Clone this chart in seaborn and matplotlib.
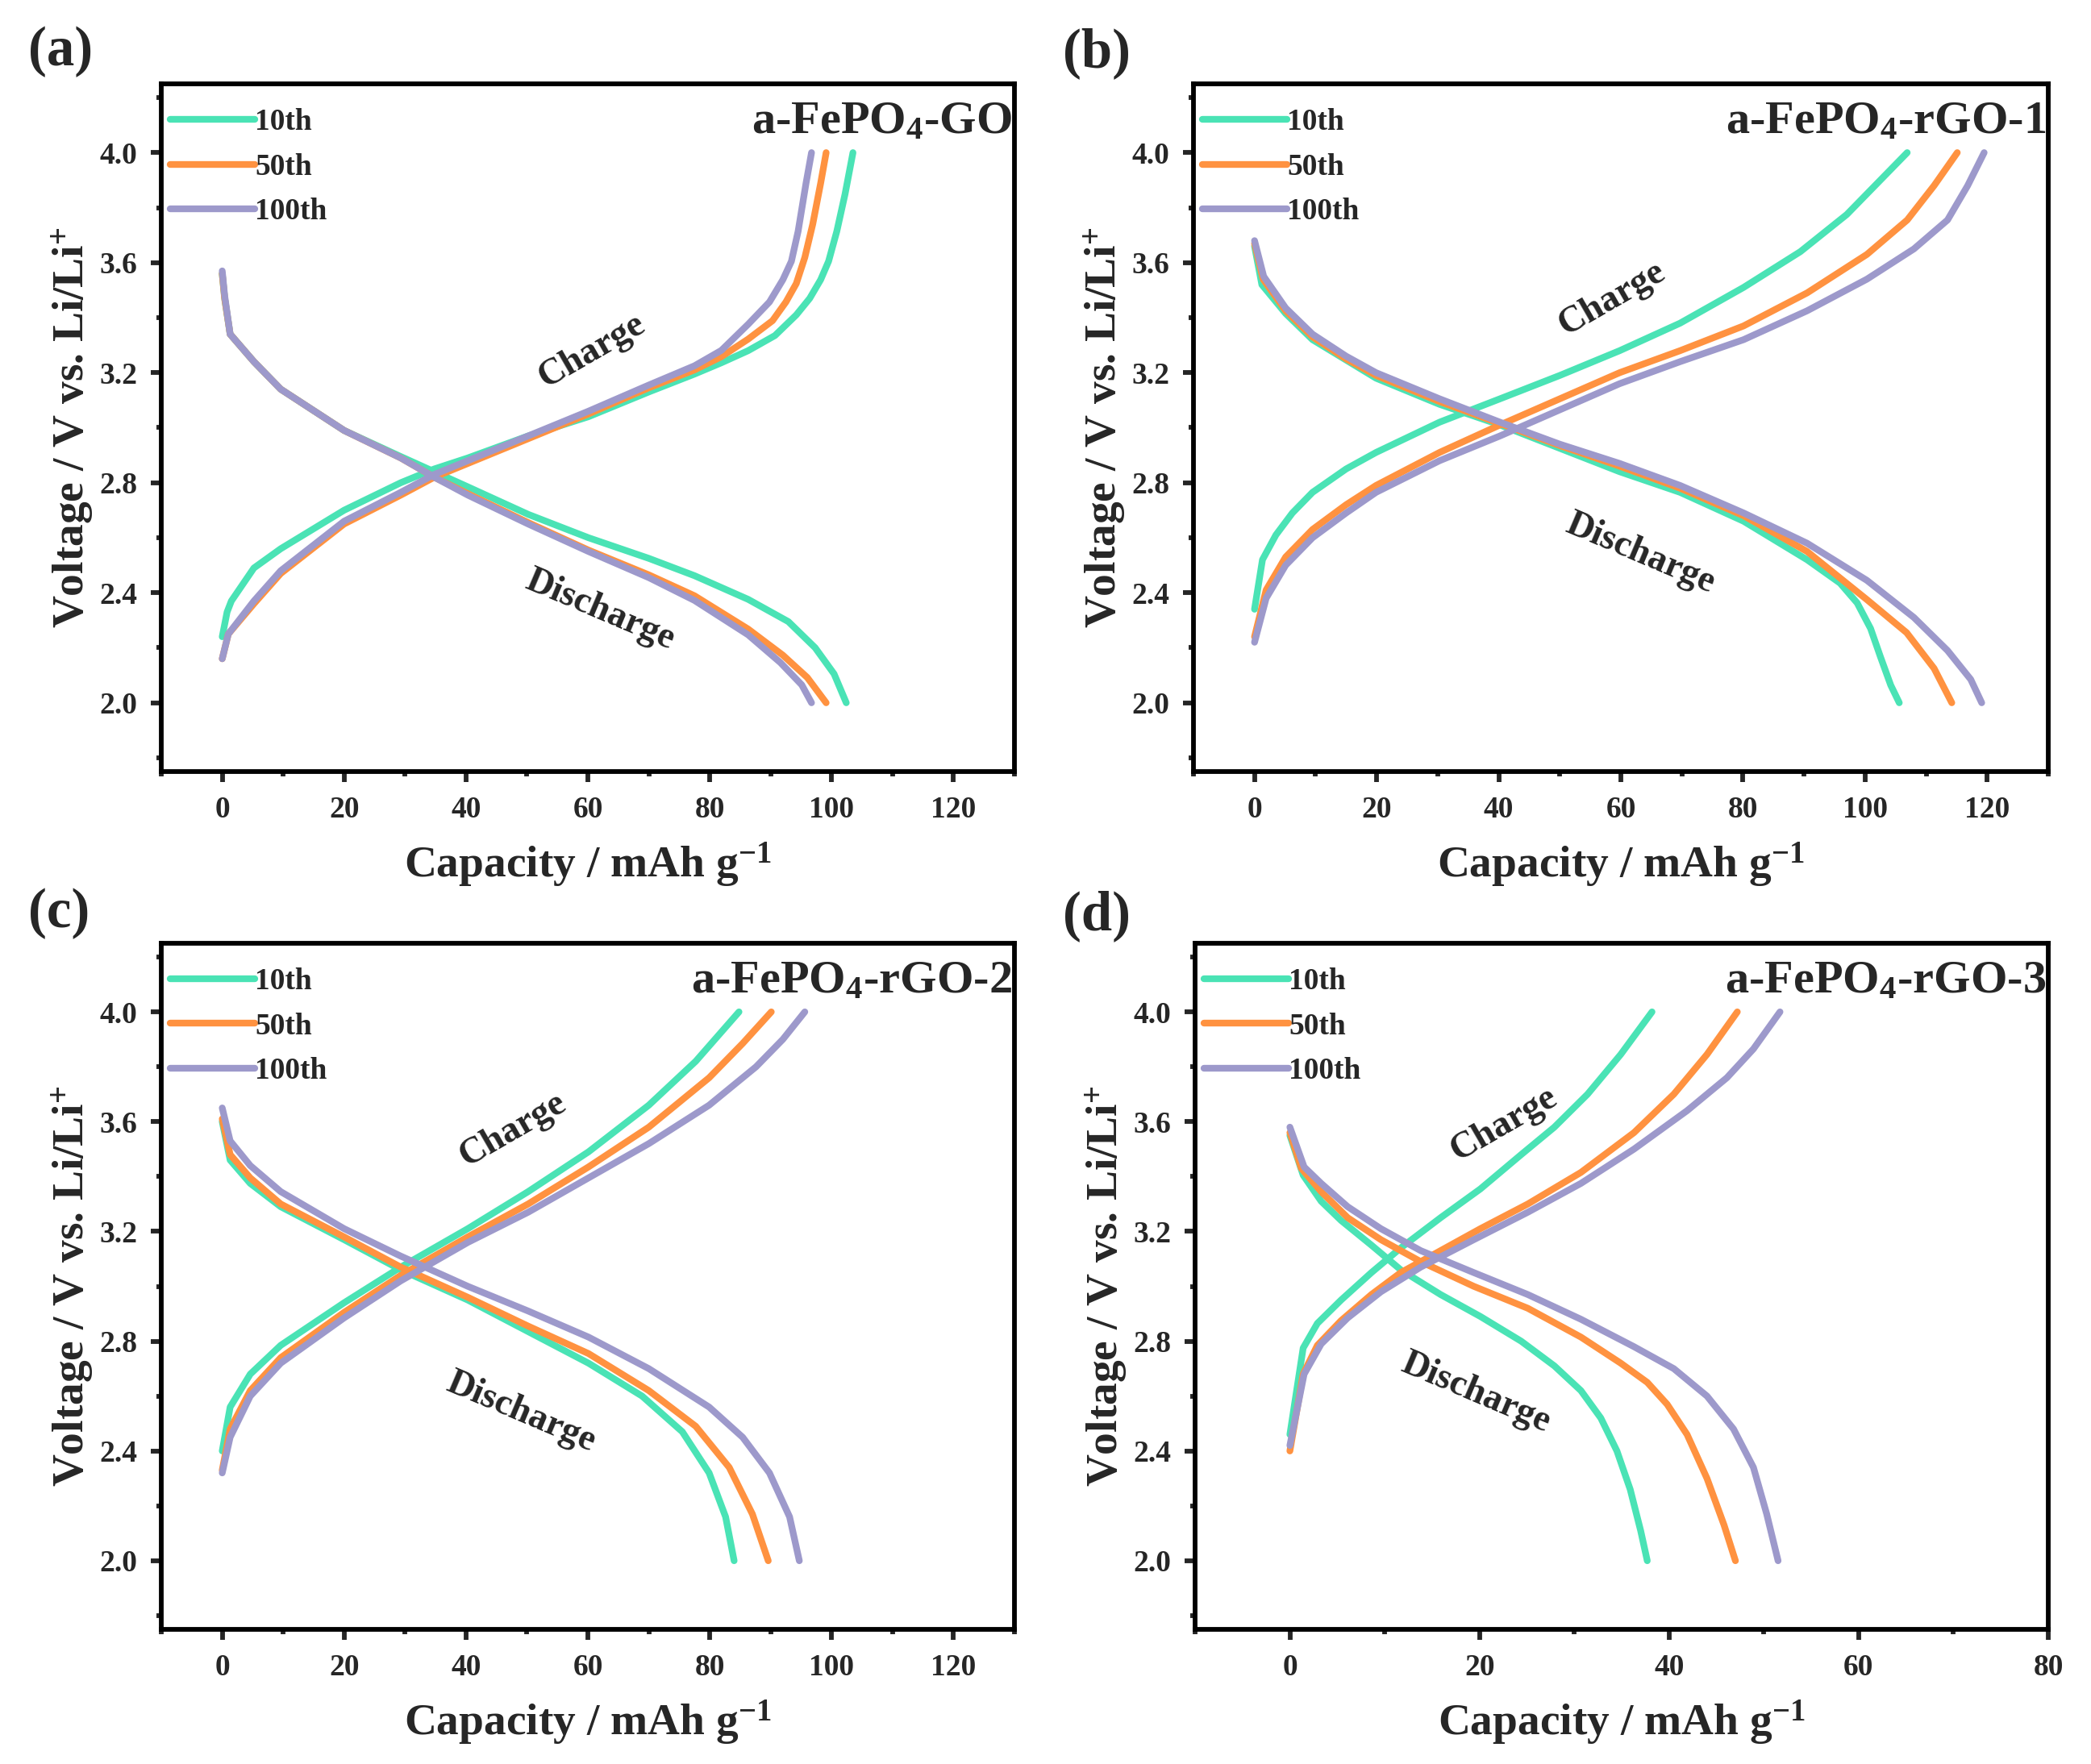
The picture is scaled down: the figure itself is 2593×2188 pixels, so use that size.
import numpy as np
import pandas as pd
import matplotlib
matplotlib.use("Agg")
import matplotlib.pyplot as plt
from matplotlib.ticker import MultipleLocator
from matplotlib.lines import Line2D
import seaborn as sns

# ---- data (capacity mAh/g, voltage V) ----
cycles = ["10th", "50th", "100th"]
colors = {"10th": "#4ae3b5", "50th": "#ff9240", "100th": "#9d99cb"}

# (a) a-FePO4-GO
a10_dis_q = [0, 0.4, 1.3, 5.2, 9.6, 20, 29.3, 34.8, 40.3, 50.2, 60.1, 70, 77.5, 86.3, 92.9, 97.3, 100.4, 102.4]
a10_dis_v = [3.56, 3.47, 3.34, 3.24, 3.14, 2.99, 2.895, 2.84, 2.785, 2.685, 2.60, 2.525, 2.462, 2.376, 2.295, 2.20, 2.105, 2.0]
a50_dis_q = [0, 0.4, 1.3, 5.2, 9.6, 20, 29.3, 34.8, 40.3, 50.2, 60.1, 70, 77.5, 86.3, 92.0, 96.0, 99.1]
a50_dis_v = [3.56, 3.47, 3.34, 3.24, 3.14, 2.99, 2.89, 2.82, 2.76, 2.655, 2.555, 2.465, 2.389, 2.268, 2.173, 2.092, 2.0]
a100_dis_q = [0, 0.4, 1.3, 5.2, 9.6, 20, 29.3, 34.8, 40.3, 50.2, 60.1, 70, 77.5, 86.3, 91.6, 95.1, 96.7]
a100_dis_v = [3.57, 3.48, 3.34, 3.24, 3.14, 2.99, 2.89, 2.82, 2.755, 2.65, 2.55, 2.455, 2.372, 2.247, 2.146, 2.065, 2.0]
a10_chg_q = [0, 0.8, 1.5, 5.2, 9.6, 20, 29.3, 34.8, 40.3, 50.2, 60.1, 70, 77.5, 81.9, 86.3, 90.7, 94.2, 96.4, 98.2, 99.5, 100.85, 102.2, 103.5]
a10_chg_v = [2.24, 2.33, 2.37, 2.49, 2.56, 2.70, 2.80, 2.85, 2.89, 2.97, 3.04, 3.13, 3.195, 3.236, 3.28, 3.335, 3.41, 3.47, 3.538, 3.605, 3.714, 3.849, 4.0]
a50_chg_q = [0, 1, 5.2, 9.6, 20, 29.3, 34.8, 40.3, 50.2, 60.1, 70, 77.5, 81.9, 86.3, 90.3, 92.5, 94.2, 95.6, 96.9, 98.2, 99.1]
a50_chg_v = [2.16, 2.25, 2.36, 2.47, 2.65, 2.755, 2.82, 2.87, 2.96, 3.05, 3.145, 3.21, 3.258, 3.322, 3.389, 3.457, 3.524, 3.619, 3.74, 3.889, 4.0]
a100_chg_q = [0, 1, 5.2, 9.6, 20, 29.3, 34.8, 40.3, 50.2, 60.1, 70, 77.5, 81.9, 86.3, 89.8, 92.0, 93.4, 94.5, 95.8, 96.7]
a100_chg_v = [2.16, 2.25, 2.37, 2.48, 2.66, 2.765, 2.83, 2.88, 2.97, 3.06, 3.155, 3.225, 3.281, 3.376, 3.457, 3.538, 3.605, 3.714, 3.889, 4.0]

# (b) a-FePO4-rGO-1
b10_dis_q = [0, 1.2, 5.1, 9.5, 19.9, 30.3, 40.2, 50, 59.8, 69.7, 80.1, 90.5, 95.9, 98.7, 100.9, 102.5, 104.2, 105.6]
b10_dis_v = [3.66, 3.52, 3.415, 3.32, 3.18, 3.085, 3.01, 2.925, 2.84, 2.765, 2.66, 2.52, 2.435, 2.363, 2.27, 2.168, 2.064, 2.0]
b50_dis_q = [0, 1.4, 5.1, 9.5, 15, 19.9, 30.3, 40.2, 50, 59.8, 69.7, 80.1, 90.5, 100.3, 106.8, 111.3, 114.2]
b50_dis_v = [3.67, 3.54, 3.425, 3.33, 3.25, 3.19, 3.095, 3.015, 2.935, 2.86, 2.78, 2.68, 2.55, 2.375, 2.255, 2.125, 2.0]
b100_dis_q = [0, 1.5, 5.1, 9.5, 15, 19.9, 30.3, 40.2, 50, 59.8, 69.7, 80.1, 90.5, 100.3, 108, 113.5, 117.3, 119.1]
b100_dis_v = [3.68, 3.55, 3.435, 3.34, 3.26, 3.20, 3.105, 3.02, 2.94, 2.87, 2.79, 2.69, 2.58, 2.445, 2.31, 2.19, 2.085, 2.0]
b10_chg_q = [0, 1.3, 3.5, 6.2, 9.5, 15, 19.9, 30.3, 40.2, 50, 59.8, 69.7, 80.1, 89.4, 97, 102.5, 106.9]
b10_chg_v = [2.34, 2.52, 2.61, 2.69, 2.765, 2.85, 2.91, 3.02, 3.105, 3.19, 3.28, 3.38, 3.51, 3.64, 3.775, 3.90, 4.0]
b50_chg_q = [0, 1.9, 5.1, 9.5, 15, 19.9, 30.3, 40.2, 50, 59.8, 69.7, 80.1, 90.5, 100.3, 106.9, 111.3, 115.1]
b50_chg_v = [2.24, 2.41, 2.53, 2.63, 2.72, 2.79, 2.91, 3.01, 3.105, 3.20, 3.28, 3.37, 3.49, 3.63, 3.755, 3.88, 4.0]
b100_chg_q = [0, 1.9, 5.1, 9.5, 15, 19.9, 30.3, 40.2, 50, 59.8, 69.7, 80.1, 90.5, 100.3, 108, 113.5, 116.8, 119.5]
b100_chg_v = [2.22, 2.38, 2.50, 2.60, 2.69, 2.765, 2.88, 2.97, 3.065, 3.16, 3.24, 3.32, 3.425, 3.54, 3.65, 3.755, 3.88, 4.0]

# (c) a-FePO4-rGO-2
c10_dis_q = [0, 1.3, 4.6, 9.6, 20, 29.3, 40.3, 50.2, 60.1, 68.9, 75.5, 79.9, 82.6, 84]
c10_dis_v = [3.60, 3.46, 3.375, 3.29, 3.17, 3.06, 2.95, 2.835, 2.72, 2.60, 2.47, 2.32, 2.16, 2.0]
c50_dis_q = [0, 1.3, 4.6, 9.6, 20, 29.3, 40.3, 50.2, 60.1, 70, 77.7, 83.2, 87, 89.6]
c50_dis_v = [3.61, 3.48, 3.395, 3.30, 3.18, 3.07, 2.96, 2.855, 2.755, 2.62, 2.49, 2.34, 2.17, 2.0]
c100_dis_q = [0, 1.3, 4.6, 9.6, 20, 29.3, 40.3, 50.2, 60.1, 70, 79.9, 85.4, 89.8, 93.1, 94.7]
c100_dis_v = [3.65, 3.53, 3.44, 3.345, 3.21, 3.11, 3.0, 2.91, 2.815, 2.70, 2.56, 2.45, 2.32, 2.16, 2.0]
c10_chg_q = [0, 1.3, 4.6, 9.6, 20, 29.3, 40.3, 50.2, 60.1, 70, 77.7, 84.8]
c10_chg_v = [2.40, 2.56, 2.68, 2.785, 2.94, 3.07, 3.21, 3.345, 3.49, 3.66, 3.82, 4.0]
c50_chg_q = [0, 1.3, 4.6, 9.6, 20, 29.3, 40.3, 50.2, 60.1, 70, 79.9, 85.4, 90.1]
c50_chg_v = [2.33, 2.48, 2.62, 2.74, 2.905, 3.04, 3.18, 3.30, 3.435, 3.58, 3.76, 3.885, 4.0]
c100_chg_q = [0, 1.3, 4.6, 9.6, 20, 29.3, 40.3, 50.2, 60.1, 70, 79.9, 87.6, 92, 95.6]
c100_chg_v = [2.32, 2.45, 2.60, 2.72, 2.885, 3.02, 3.16, 3.27, 3.395, 3.52, 3.66, 3.80, 3.90, 4.0]

# (d) a-FePO4-rGO-3
d10_dis_q = [0, 1.4, 3.3, 5.4, 8.6, 11.7, 15.9, 20.1, 24.4, 27.9, 30.7, 32.8, 34.5, 35.9, 37, 37.7]
d10_dis_v = [3.55, 3.405, 3.31, 3.24, 3.15, 3.06, 2.97, 2.89, 2.80, 2.71, 2.62, 2.52, 2.40, 2.26, 2.11, 2.0]
d50_dis_q = [0, 1.2, 3.3, 6.1, 9.6, 13.8, 19.4, 25.1, 30.7, 34.9, 37.7, 39.8, 41.9, 44, 45.8, 47]
d50_dis_v = [3.56, 3.43, 3.345, 3.25, 3.17, 3.09, 3.0, 2.92, 2.815, 2.72, 2.65, 2.57, 2.46, 2.30, 2.13, 2.0]
d100_dis_q = [0, 1.5, 3.3, 6.1, 9.6, 13.8, 19.4, 25.1, 30.7, 36.3, 40.5, 44, 46.8, 48.9, 50.3, 51.5]
d100_dis_v = [3.58, 3.435, 3.375, 3.29, 3.21, 3.13, 3.05, 2.97, 2.88, 2.78, 2.70, 2.60, 2.48, 2.34, 2.17, 2.0]
d10_chg_q = [0, 1.4, 2.9, 5.4, 8.6, 11.7, 15.9, 20.1, 24.4, 27.9, 31.4, 34.9, 38.2]
d10_chg_v = [2.46, 2.775, 2.865, 2.95, 3.05, 3.14, 3.25, 3.355, 3.48, 3.58, 3.70, 3.845, 4.0]
d50_chg_q = [0, 1.4, 2.9, 5.4, 8.6, 11.7, 15.9, 20.1, 25.1, 30.7, 36.3, 40.5, 44, 47.2]
d50_chg_v = [2.40, 2.68, 2.785, 2.875, 2.97, 3.05, 3.13, 3.21, 3.30, 3.415, 3.56, 3.70, 3.845, 4.0]
d100_chg_q = [0, 1.5, 3.3, 6.1, 9.6, 13.8, 19.4, 25.1, 30.7, 36.3, 41.9, 46.1, 48.9, 51.7]
d100_chg_v = [2.42, 2.68, 2.79, 2.885, 2.98, 3.07, 3.17, 3.27, 3.375, 3.50, 3.64, 3.76, 3.865, 4.0]

titles = ["a-FePO$_4$-GO", "a-FePO$_4$-rGO-1", "a-FePO$_4$-rGO-2", "a-FePO$_4$-rGO-3"]
panel_tags = ["(a)", "(b)", "(c)", "(d)"]


def make_frame(curves):
    rows = []
    for cyc, branch, q, v in curves:
        for qi, vi in zip(q, v):
            rows.append({"cycle": cyc, "branch": cyc + "_" + branch, "cap": qi, "volt": vi})
    return pd.DataFrame(rows)


frames = [
    make_frame([("10th", "dis", a10_dis_q, a10_dis_v), ("10th", "chg", a10_chg_q, a10_chg_v),
                ("50th", "dis", a50_dis_q, a50_dis_v), ("50th", "chg", a50_chg_q, a50_chg_v),
                ("100th", "dis", a100_dis_q, a100_dis_v), ("100th", "chg", a100_chg_q, a100_chg_v)]),
    make_frame([("10th", "dis", b10_dis_q, b10_dis_v), ("10th", "chg", b10_chg_q, b10_chg_v),
                ("50th", "dis", b50_dis_q, b50_dis_v), ("50th", "chg", b50_chg_q, b50_chg_v),
                ("100th", "dis", b100_dis_q, b100_dis_v), ("100th", "chg", b100_chg_q, b100_chg_v)]),
    make_frame([("10th", "dis", c10_dis_q, c10_dis_v), ("10th", "chg", c10_chg_q, c10_chg_v),
                ("50th", "dis", c50_dis_q, c50_dis_v), ("50th", "chg", c50_chg_q, c50_chg_v),
                ("100th", "dis", c100_dis_q, c100_dis_v), ("100th", "chg", c100_chg_q, c100_chg_v)]),
    make_frame([("10th", "dis", d10_dis_q, d10_dis_v), ("10th", "chg", d10_chg_q, d10_chg_v),
                ("50th", "dis", d50_dis_q, d50_dis_v), ("50th", "chg", d50_chg_q, d50_chg_v),
                ("100th", "dis", d100_dis_q, d100_dis_v), ("100th", "chg", d100_chg_q, d100_chg_v)]),
]

sns.set_theme(style="ticks")
plt.rcParams["font.family"] = ["Liberation Serif", "DejaVu Serif"]
plt.rcParams["font.weight"] = "bold"
plt.rcParams["mathtext.fontset"] = "custom"
plt.rcParams["mathtext.rm"] = "Liberation Serif:bold"
plt.rcParams["mathtext.bf"] = "Liberation Serif:bold"
plt.rcParams["mathtext.it"] = "Liberation Serif:bold"
plt.rcParams["mathtext.default"] = "rm"

fig = plt.figure(figsize=(2593 / 300, 2188 / 300), dpi=300)
W, H = 2593, 2188
boxes = [
    (200, 104, 1258, 957),
    (1480, 104, 2540, 957),
    (200, 1170, 1258, 2021),
    (1482, 1170, 2540, 2021),
]
tag_pos = [(35, 64), (1318, 66), (35, 1133), (1318, 1136)]
xlims = [(-10, 130), (-10, 130), (-10, 130), (-10, 80)]
charge_txt = [(60.7, 3.28), (58.6, 3.47), (47.7, 3.57), (22.6, 3.59)]
dis_txt = [(62, 2.335), (63.2, 2.54), (49, 2.54), (19.6, 2.61)]

for i in range(4):
    x0, y0, x1, y1 = boxes[i]
    ax = fig.add_axes([x0 / W, 1 - y1 / H, (x1 - x0) / W, (y1 - y0) / H])
    sns.lineplot(data=frames[i], x="cap", y="volt", hue="cycle", units="branch",
                 estimator=None, sort=False, palette=colors, hue_order=cycles,
                 linewidth=2.0, legend=False, ax=ax, solid_capstyle="round",
                 solid_joinstyle="round")
    ax.set_xlim(*xlims[i])
    ax.set_ylim(1.75, 4.25)
    ax.xaxis.set_major_locator(MultipleLocator(20))
    ax.xaxis.set_minor_locator(MultipleLocator(10))
    ax.yaxis.set_major_locator(MultipleLocator(0.4))
    ax.yaxis.set_minor_locator(MultipleLocator(0.2))
    ax.yaxis.set_major_formatter(plt.FormatStrFormatter("%.1f"))
    ax.tick_params(which="major", direction="out", length=3.1, width=1.4, labelsize=9, pad=4)
    ax.tick_params(which="minor", direction="out", length=1.5, width=1.4)
    ax.tick_params(top=False, right=False, which="both")
    for s in ax.spines.values():
        s.set_linewidth(1.4)
        s.set_color("black")
    for lab in ax.get_xticklabels() + ax.get_yticklabels():
        lab.set_fontweight("bold")
    ax.set_xlabel("Capacity / mAh g$^{-1}$", fontsize=13.3, fontweight="bold", labelpad=5)
    ax.set_ylabel("Voltage / V vs. Li/Li$^{+}$", fontsize=13.3, fontweight="bold", labelpad=1)

    handles = [Line2D([], [], color=colors[c], lw=2.0, solid_capstyle="round") for c in cycles]
    ax.legend(handles, cycles, loc="upper left", bbox_to_anchor=(0.0, 0.978), frameon=False,
              prop={"size": 9, "weight": "bold"}, handlelength=2.8, handletextpad=0.0,
              borderpad=0.2, borderaxespad=0.1, labelspacing=0.55)

    ax.text(0.997, 0.928, titles[i], transform=ax.transAxes, ha="right", va="baseline",
            fontsize=14, fontweight="bold")
    ax.text(*charge_txt[i], "Charge", rotation=30, ha="center", va="center",
            fontsize=11, fontweight="bold", rotation_mode="anchor")
    ax.text(*dis_txt[i], "Discharge", rotation=-23, ha="center", va="center",
            fontsize=11, fontweight="bold", rotation_mode="anchor")

    fig.text(tag_pos[i][0] / W, 1 - tag_pos[i][1] / H, panel_tags[i], ha="left", va="center",
             fontsize=16.5, fontweight="bold")

fig.savefig("out.png", dpi=300, facecolor="white")
